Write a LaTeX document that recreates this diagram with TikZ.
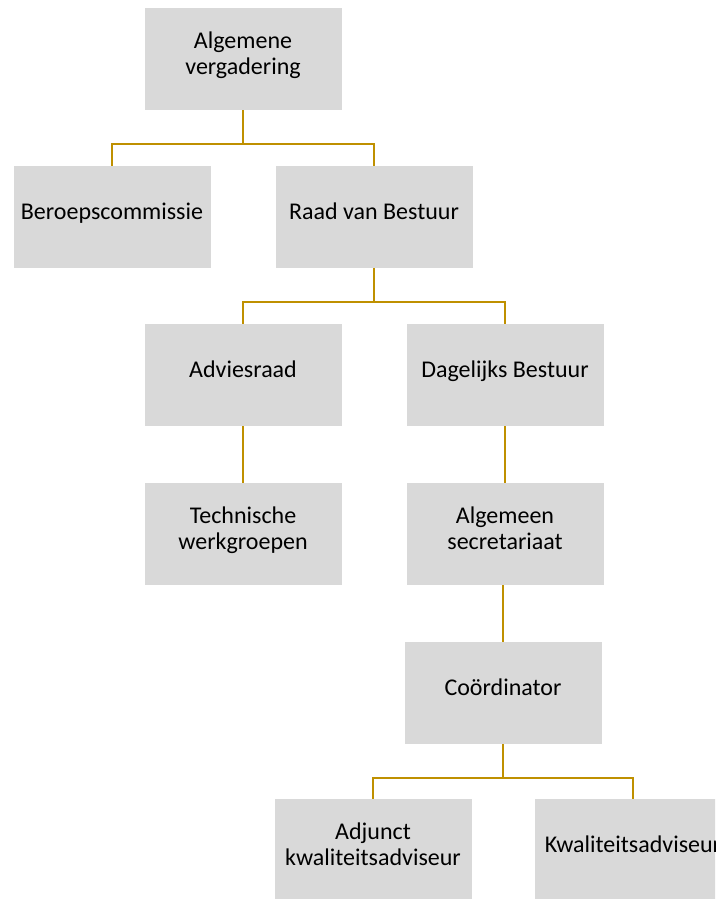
\documentclass[tikz,border=0pt]{standalone}
\usepackage{fontspec}
\setmainfont{Carlito}
\definecolor{boxgrey}{HTML}{D9D9D9}
\definecolor{linkgold}{HTML}{BF9000}

\begin{document}
\begin{tikzpicture}[x=0.75pt,y=-0.75pt,
	unit/.style={fill=boxgrey, minimum width=147.75pt, minimum height=76.5pt,
		inner sep=0pt, align=center, text depth=9pt,
		font=\fontsize{18}{19.5}\selectfont},
	link/.style={draw=linkgold, line width=1.7pt}]
\clip (0,0) rectangle (715,899);
	\node[unit] (alg) at (243,59) {Algemene\\vergadering};
	\node[unit] (ber) at (112,217) {Beroepscommissie};
	\node[unit] (raad) at (374,217) {Raad van Bestuur};
	\node[unit] (adv) at (243,375) {Adviesraad};
	\node[unit] (db) at (505,375) {Dagelijks Bestuur};
	\node[unit] (tech) at (243,534) {Technische\\werkgroepen};
	\node[unit] (secr) at (505,534) {Algemeen\\secretariaat};
	\node[unit] (coord) at (503,693) {Coördinator};
	\node[unit] (adj) at (373,850) {Adjunct\\kwaliteitsadviseur};
	\node[unit] (kwal) at (633,850) {Kwaliteitsadviseur};
	% tree lines
	\draw[link] (alg.south) -- ++(0,34) -| (ber.north);
	\draw[link] (alg.south) -- ++(0,34) -| (raad.north);
	\draw[link] (raad.south) -- ++(0,34) -| (adv.north);
	\draw[link] (raad.south) -- ++(0,34) -| (db.north);
	\draw[link] (adv) -- (tech);
	\draw[link] (db) -- (secr);
	\draw[link] (coord.north) -- (coord.north |- secr.south);
	\draw[link] (coord.south) -- ++(0,34) -| (adj.north);
	\draw[link] (coord.south) -- ++(0,34) -| (kwal.north);
\end{tikzpicture}
\end{document}
